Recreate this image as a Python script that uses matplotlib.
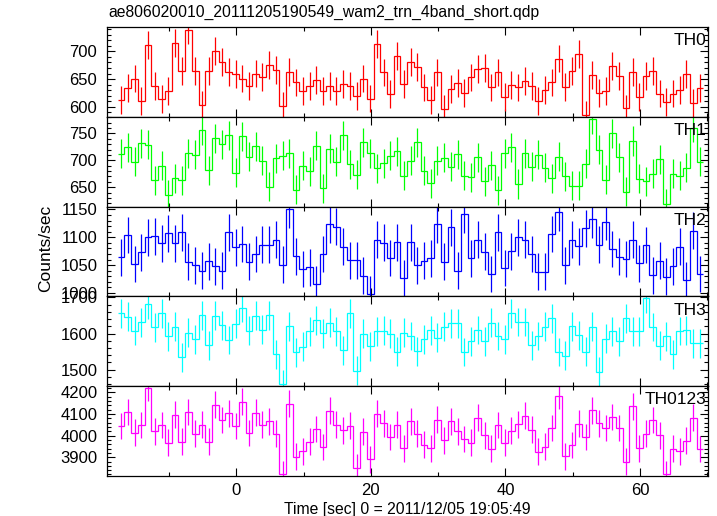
import numpy as np
import matplotlib
matplotlib.use("Agg")
import matplotlib.pyplot as plt
from matplotlib.ticker import MultipleLocator

plt.rcParams['font.family'] = ['Liberation Sans', 'DejaVu Sans']

# ---- data ----
time_start = -17.6      # left edge of first bin [sec]
bin_width = 1.0         # bin size [sec]

th0 = [612, 634, 651, 611, 711, 637, 614, 628, 715, 664, 738, 664, 603, 664, 701, 681,
       663, 659, 651, 638, 660, 654, 676, 667, 601, 663, 644, 629, 637, 648, 628, 637,
       628, 641, 637, 619, 651, 615, 713, 662, 623, 692, 641, 681, 672, 635, 612, 662,
       596, 632, 643, 625, 653, 668, 670, 635, 662, 618, 639, 635, 647, 638, 611, 630,
       644, 687, 636, 664, 695, 586, 658, 625, 628, 673, 656, 597, 663, 618, 655, 665,
       624, 609, 624, 630, 659, 607, 634]
th1 = [712, 724, 697, 732, 729, 663, 690, 636, 667, 663, 713, 710, 756, 682, 741, 730,
       747, 677, 745, 707, 726, 699, 651, 704, 709, 713, 645, 690, 680, 727, 648, 722,
       697, 747, 693, 673, 734, 713, 685, 695, 709, 717, 671, 699, 734, 681, 657, 699,
       705, 688, 711, 671, 669, 706, 661, 691, 644, 713, 724, 656, 713, 688, 710, 686,
       667, 707, 670, 653, 653, 694, 776, 720, 664, 750, 706, 642, 736, 666, 661, 675,
       702, 619, 675, 671, 686, 761, 697]
th2 = [1064, 1104, 1052, 1073, 1100, 1102, 1089, 1107, 1089, 1109, 1056, 1050, 1040, 1057,
       1048, 1040, 1109, 1082, 1088, 1056, 1070, 1087, 1087, 1096, 1051, 1150, 1066, 1043,
       1046, 1016, 1070, 1123, 1119, 1083, 1059, 1059, 1031, 998, 1096, 1090, 1063, 1091,
       1027, 1091, 1050, 1058, 1062, 1123, 1056, 1118, 1040, 1141, 1062, 1096, 1074, 1034,
       1109, 1045, 1075, 1100, 1096, 1070, 1038, 1038, 1106, 1145, 1050, 1096, 1084, 1116,
       1132, 1087, 1128, 1079, 1065, 1061, 1096, 1053, 1086, 1032, 1058, 1029, 1048, 1083,
       1023, 1112, 1034]
th3 = [1656, 1647, 1608, 1631, 1681, 1617, 1656, 1592, 1619, 1534, 1602, 1584, 1651, 1567,
       1650, 1623, 1582, 1627, 1672, 1608, 1649, 1611, 1651, 1542, 1460, 1620, 1548, 1564,
       1606, 1637, 1601, 1630, 1606, 1553, 1656, 1497, 1600, 1565, 1606, 1608, 1600, 1550,
       1602, 1593, 1551, 1584, 1609, 1589, 1619, 1629, 1629, 1549, 1579, 1610, 1578, 1630,
       1593, 1584, 1656, 1632, 1632, 1568, 1593, 1619, 1642, 1549, 1539, 1620, 1595, 1550,
       1619, 1494, 1586, 1606, 1579, 1642, 1606, 1606, 1698, 1618, 1566, 1592, 1542, 1607,
       1609, 1573, 1573]
th0123 = [4044, 4109, 4013, 4049, 4221, 4020, 4049, 3967, 4097, 3972, 4109, 4009, 4051, 3972,
          4142, 4072, 4102, 4044, 4156, 4012, 4105, 4051, 4065, 4009, 3820, 4148, 3902, 3928,
          3972, 4030, 3947, 4114, 4051, 4024, 4046, 3851, 4017, 3891, 4100, 4057, 3993, 4051,
          3941, 4065, 4009, 3958, 3942, 4074, 3978, 4066, 4020, 3984, 3967, 4082, 4001, 3939,
          4049, 3967, 4023, 4052, 4091, 4026, 3925, 3949, 4035, 4184, 3905, 3956, 4055, 3993,
          4117, 4057, 4035, 4086, 4035, 3879, 4136, 3942, 4009, 4072, 4001, 3820, 3939, 3927,
          3976, 4082, 3938]

series = [th0, th1, th2, th3, th0123]
labels = ["TH0", "TH1", "TH2", "TH3", "TH0123"]
errors = [25, 27, 33, 40, 62]
colors = ["#ff0000", "#00ff00", "#0000ff", "#00ffff", "#ff00ff"]
ylims = [(582, 744), (614, 781), (994, 1155), (1454, 1703), (3813, 4228)]
yticks = [[600, 650, 700], [650, 700, 750], [1000, 1050, 1100, 1150],
          [1500, 1600, 1700], [3900, 4000, 4100, 4200]]
yminor = [10, 10, 10, 20, 20]
xlim = (-19.2, 70.1)

title = "ae806020010_20111205190549_wam2_trn_4band_short.qdp"
xlabel = "Time [sec] 0 = 2011/12/05 19:05:49"
ylabel = "Counts/sec"

# ---- plot ----
fig = plt.figure(figsize=(7.17, 5.16), dpi=100)
gs = fig.add_gridspec(5, 1, left=107/717, right=708/717, top=1-27/516,
                      bottom=1-476/516, hspace=0)
axes = [fig.add_subplot(gs[i]) for i in range(5)]

for i, ax in enumerate(axes):
    vals = np.array(series[i], dtype=float)
    n = len(vals)
    edges = time_start + bin_width * np.arange(n + 1)
    centers = 0.5 * (edges[:-1] + edges[1:])
    ax.stairs(vals, edges, color=colors[i], lw=0.9, baseline=None)
    ax.errorbar(centers, vals, yerr=errors[i], fmt='none', ecolor=colors[i],
                elinewidth=0.9, capsize=0)
    ax.set_xlim(*xlim)
    ax.set_ylim(*ylims[i])
    ax.set_yticks(yticks[i])
    ax.yaxis.set_minor_locator(MultipleLocator(yminor[i]))
    ax.xaxis.set_major_locator(MultipleLocator(20))
    ax.xaxis.set_minor_locator(MultipleLocator(10))
    ax.tick_params(which='both', direction='in', top=True, right=True,
                   labelsize=12, width=0.8, colors='black')
    ax.tick_params(which='major', length=6)
    ax.tick_params(which='minor', length=3)
    ax.tick_params(axis='y', pad=7)
    ax.tick_params(axis='x', pad=5)
    for sp in ax.spines.values():
        sp.set_linewidth(0.9)
    ax.text(0.998, 0.93, labels[i], transform=ax.transAxes, ha='right', va='top',
            fontsize=12.5)
    if i < 4:
        ax.tick_params(labelbottom=False)

axes[-1].set_xlabel(xlabel, fontsize=11.3, labelpad=3)
fig.text(108/717, 1-12/516, title, ha='left', va='center', fontsize=11.3)
fig.text(46/717, 1-248/516, ylabel, ha='center', va='center', rotation=90, fontsize=12.5)

fig.savefig("out.png", dpi=100)
